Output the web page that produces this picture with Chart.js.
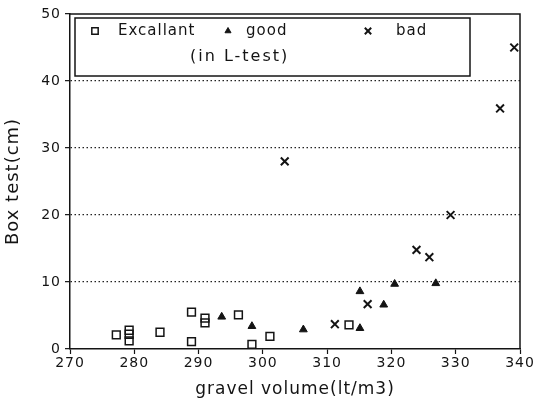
<!DOCTYPE html>
<html>
<head>
<meta charset="utf-8">
<script src="https://cdn.jsdelivr.net/npm/chart.js@4/dist/chart.umd.min.js"></script>
<style>
  body { margin: 0; background: #fff; }
  #boxChart { display: block; }
</style>
</head>
<body>
<canvas id="boxChart" width="535" height="410"></canvas>
<script>
// gravel volume (lt/m3) vs box test (cm), split by the L-test result
const excellentVolume = [277.2, 279.2, 279.2, 279.2, 284.0, 288.9, 288.9, 291.0, 291.0, 296.2, 298.3, 301.1, 313.4];
const excellentBox    = [2.1, 2.8, 2.2, 1.2, 2.5, 5.5, 1.1, 4.6, 3.9, 5.1, 0.7, 1.9, 3.6];

const goodVolume = [293.6, 298.3, 306.3, 315.1, 315.1, 318.8, 320.5, 326.9];
const goodBox    = [4.8, 3.4, 2.9, 3.1, 8.6, 6.6, 9.7, 9.8];

const badVolume = [303.4, 311.2, 316.3, 323.9, 325.9, 329.2, 336.9, 339.1];
const badBox    = [28.0, 3.7, 6.7, 14.8, 13.7, 20.0, 35.9, 45.0];

const xTicks = [270, 280, 290, 300, 310, 320, 330, 340];
const yTicks = [0, 10, 20, 30, 40, 50];

const seriesNames = ['Excallant', 'good', 'bad'];
const keyNote = '(in L-test)';

const INK = '#141414';
const FONT = "'DejaVu Sans', sans-serif";

function toPoints(xs, ys) {
    return xs.map((x, i) => ({ x: x, y: ys[i] }));
}

/**
 * Outer frame of the plot and the boxed key in its top-left corner.
 */
const frameAndKey = {
    id: 'frameAndKey',
    beforeDraw(chart) {
        chart.ctx.letterSpacing = '1px';
    },
    afterDraw(chart) {
        const ctx = chart.ctx;
        const area = chart.chartArea;
        ctx.save();
        ctx.strokeStyle = INK;
        ctx.lineWidth = 1.5;
        ctx.beginPath();
        ctx.moveTo(area.left, area.top);
        ctx.lineTo(area.right, area.top);
        ctx.lineTo(area.right, area.bottom);
        ctx.stroke();

        // key
        const bx = area.left + 5, by = area.top + 4, bw = 395, bh = 58;
        ctx.fillStyle = '#fff';
        ctx.fillRect(bx, by, bw, bh);
        ctx.lineWidth = 1.5;
        ctx.strokeRect(bx, by, bw, bh);

        const markerX = [bx + 20, bx + 153, bx + 293];
        const textGap = [23, 18, 28];
        const rowY = by + 13;
        ctx.font = '15px ' + FONT;
        ctx.letterSpacing = '1px';
        ctx.textBaseline = 'middle';
        ctx.textAlign = 'left';
        chart.data.datasets.forEach((ds, i) => {
            ctx.fillStyle = ds.pointBackgroundColor;
            ctx.strokeStyle = ds.pointBorderColor;
            ctx.lineWidth = ds.pointBorderWidth;
            Chart.helpers.drawPoint(ctx, {
                pointStyle: ds.pointStyle,
                radius: ds.pointRadius - 1,
                rotation: 0,
                borderWidth: ds.pointBorderWidth
            }, markerX[i], rowY);
            ctx.fillStyle = INK;
            ctx.fillText(seriesNames[i], markerX[i] + textGap[i], rowY);
        });
        ctx.font = '16px ' + FONT;
        ctx.letterSpacing = '2px';
        ctx.fillText(keyNote, bx + 115, by + 39);
        ctx.restore();
    }
};

const ctx = document.getElementById('boxChart').getContext('2d');
const boxChart = new Chart(ctx, {
    type: 'scatter',
    data: {
        datasets: [{
            label: seriesNames[0],
            data: toPoints(excellentVolume, excellentBox),
            pointStyle: 'rect',
            pointRadius: 5.5,
            pointBackgroundColor: 'rgba(0,0,0,0)',
            pointBorderColor: INK,
            pointBorderWidth: 1.5
        }, {
            label: seriesNames[1],
            data: toPoints(goodVolume, goodBox),
            pointStyle: 'triangle',
            pointRadius: 4.5,
            pointBackgroundColor: INK,
            pointBorderColor: INK,
            pointBorderWidth: 1
        }, {
            label: seriesNames[2],
            data: toPoints(badVolume, badBox),
            pointStyle: 'crossRot',
            pointRadius: 5.5,
            pointBackgroundColor: INK,
            pointBorderColor: INK,
            pointBorderWidth: 2
        }]
    },
    options: {
        responsive: false,
        animation: false,
        events: [],
        layout: {
            padding: { top: 14, right: 15, left: 0, bottom: 0 }
        },
        plugins: {
            legend: { display: false },
            tooltip: { enabled: false }
        },
        scales: {
            x: {
                type: 'linear',
                min: 270,
                max: 340,
                afterBuildTicks: scale => { scale.ticks = xTicks.map(v => ({ value: v })); },
                afterFit: scale => { scale.height = 61; },
                ticks: {
                    color: INK,
                    padding: 1,
                    maxRotation: 0,
                    font: { family: FONT, size: 14 }
                },
                grid: {
                    drawOnChartArea: false,
                    drawTicks: true,
                    tickLength: 5,
                    tickColor: INK,
                    tickWidth: 1.2
                },
                border: { color: INK, width: 1.5 },
                title: {
                    display: true,
                    text: 'gravel volume(lt/m3)',
                    color: INK,
                    font: { family: FONT, size: 17 },
                    padding: { top: 0, bottom: 10 }
                }
            },
            y: {
                type: 'linear',
                min: 0,
                max: 50,
                afterBuildTicks: scale => { scale.ticks = yTicks.map(v => ({ value: v })); },
                afterFit: scale => { scale.width = 70; },
                ticks: {
                    color: INK,
                    padding: 4,
                    font: { family: FONT, size: 14 }
                },
                grid: {
                    color: c => (c.tick && (c.tick.value === 0 || c.tick.value === 50)) ? 'rgba(0,0,0,0)' : '#222',
                    lineWidth: 1.3,
                    tickLength: 5,
                    tickColor: INK,
                    tickWidth: 1.2,
                    tickBorderDash: []
                },
                border: { color: INK, width: 1.5, dash: [1.5, 2.5] },
                title: {
                    display: true,
                    text: 'Box test(cm)',
                    color: INK,
                    font: { family: FONT, size: 18 },
                    padding: { top: 3, bottom: 0 }
                }
            }
        }
    },
    plugins: [frameAndKey]
});
</script>
</body>
</html>
